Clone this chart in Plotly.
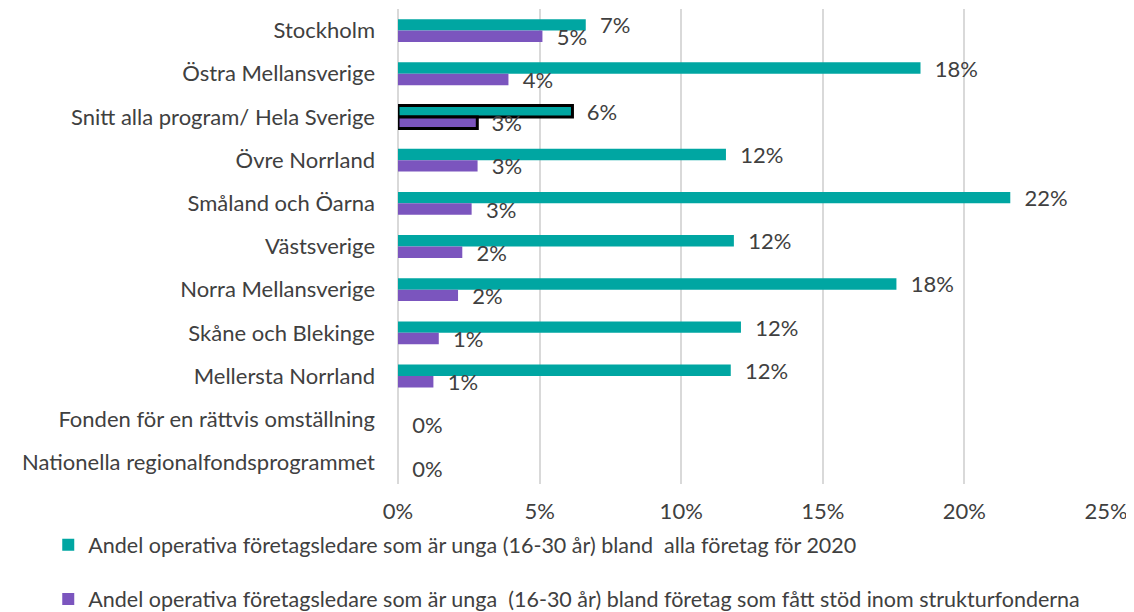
import plotly.graph_objects as go

categories = [
    "Stockholm",
    "Östra Mellansverige",
    "Snitt alla program/ Hela Sverige",
    "Övre Norrland",
    "Småland och Öarna",
    "Västsverige",
    "Norra Mellansverige",
    "Skåne och Blekinge",
    "Mellersta Norrland",
    "Fonden för en rättvis omställning",
    "Nationella regionalfondsprogrammet",
]
alla_foretag = [0.0663, 0.1845, 0.0616, 0.1158, 0.2162, 0.1186, 0.1760, 0.1211, 0.1175, None, None]
stod_foretag = [0.0510, 0.0390, 0.0280, 0.0281, 0.0260, 0.0227, 0.0212, 0.0144, 0.0125, 0.0, 0.0]
series_names = [
    "Andel operativa företagsledare som är unga (16-30 år) bland  alla företag för 2020",
    "Andel operativa företagsledare som är unga  (16-30 år) bland företag som fått stöd inom strukturfonderna",
]
highlight = "Snitt alla program/ Hela Sverige"

TEAL = "#00A6A2"
PURPLE = "#7B55BE"
TXT = "#404040"
FONT = "Lato"
FS = 22
LFS = 21.5

line_w = [3 if c == highlight else 0 for c in categories]

fig = go.Figure()
fig.add_trace(go.Bar(
    y=categories, x=alla_foretag, orientation="h", name=series_names[0],
    marker=dict(color=TEAL, line=dict(color="black", width=line_w)),
    texttemplate="\u00a0\u00a0%{x:.0%}", textposition="outside", constraintext="none",
    textfont=dict(size=FS, color=TXT, family=FONT), cliponaxis=False,
    legend="legend", showlegend=True,
))
fig.add_trace(go.Bar(
    y=categories, x=stod_foretag, orientation="h", name=series_names[1],
    marker=dict(color=PURPLE, line=dict(color="black", width=line_w)),
    texttemplate="\u00a0\u00a0%{x:.0%}", textposition="outside", constraintext="none",
    textfont=dict(size=FS, color=TXT, family=FONT), cliponaxis=False,
    legend="legend2", showlegend=True,
))

fig.update_layout(
    width=1126, height=604,
    margin=dict(l=390, r=28, t=1, b=128, autoexpand=False),
    paper_bgcolor="white", plot_bgcolor="white",
    barmode="group", bargap=0.47, bargroupgap=0,
    font=dict(family=FONT, size=FS, color=TXT),
    showlegend=True,
    legend=dict(x=-0.494, y=-0.128, xanchor="left", yanchor="middle",
                font=dict(size=LFS, color=TXT, family=FONT), bgcolor="rgba(0,0,0,0)"),
    legend2=dict(x=-0.494, y=-0.242, xanchor="left", yanchor="middle",
                 font=dict(size=LFS, color=TXT, family=FONT), bgcolor="rgba(0,0,0,0)"),
)
fig.update_xaxes(range=[0, 0.25], dtick=0.05, tickformat=".0%", automargin=False,
                 showgrid=True, gridcolor="#D9D9D9", gridwidth=1.5,
                 zeroline=True, zerolinecolor="#D9D9D9", zerolinewidth=1.5,
                 showline=False, ticks="", ticklabelstandoff=12,
                 tickfont=dict(size=FS, color=TXT, family=FONT))
fig.update_yaxes(autorange="reversed", showgrid=False, showline=False, ticks="",
                 automargin=False, ticklabelstandoff=22,
                 tickfont=dict(size=FS, color=TXT, family=FONT))

fig.write_html("out.html")
